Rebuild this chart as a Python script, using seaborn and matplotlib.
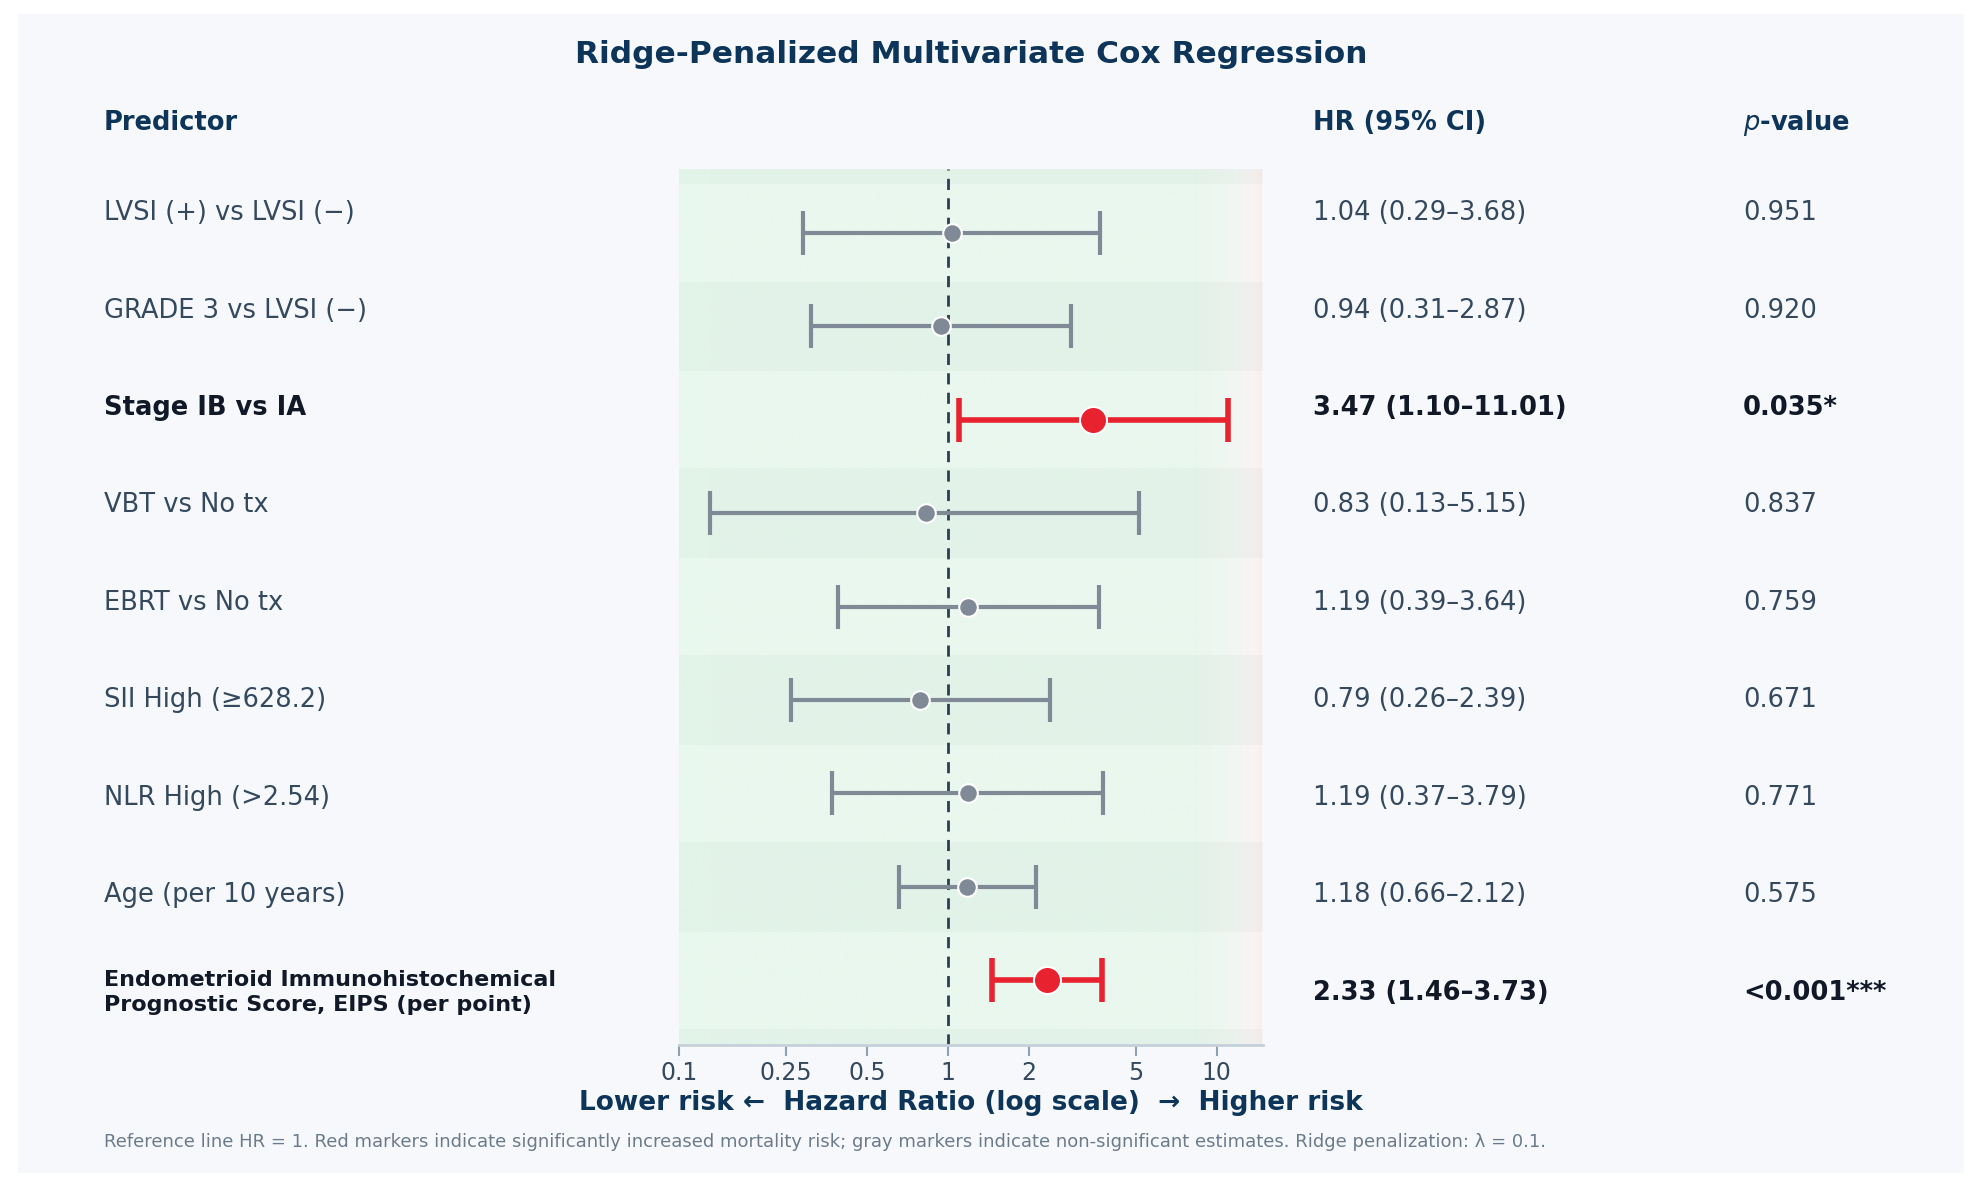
import numpy as np
import pandas as pd
import matplotlib
matplotlib.use("Agg")
import matplotlib.pyplot as plt
import seaborn as sns
from matplotlib.colors import LinearSegmentedColormap

predictors = ["LVSI (+) vs LVSI (\u2212)", "GRADE 3 vs LVSI (\u2212)", "Stage IB vs IA",
              "VBT vs No tx", "EBRT vs No tx", "SII High (\u2265628.2)", "NLR High (>2.54)",
              "Age (per 10 years)", "Endometrioid Immunohistochemical\nPrognostic Score, EIPS (per point)"]
hr = [1.04, 0.94, 3.47, 0.83, 1.19, 0.79, 1.19, 1.18, 2.33]
lo = [0.29, 0.31, 1.10, 0.13, 0.39, 0.26, 0.37, 0.66, 1.46]
hi = [3.68, 2.87, 11.01, 5.15, 3.64, 2.39, 3.79, 2.12, 3.73]
pvals = ["0.951", "0.920", "0.035*", "0.837", "0.759", "0.671", "0.771", "0.575", "<0.001***"]
sig = [False, False, True, False, False, False, False, False, True]
xticks = [0.1, 0.25, 0.5, 1, 2, 5, 10]
xticklabels = ["0.1", "0.25", "0.5", "1", "2", "5", "10"]

sns.set_theme(style="white")
plt.rcParams['font.family'] = ['DejaVu Sans']

NAVY = "#0d3559"; RED = "#e8222e"; GRAY = "#7f8a96"; TXT = "#34495e"; DARK = "#111827"

fig = plt.figure(figsize=(19.82, 11.87), dpi=100, facecolor="white")
fig.patches.append(plt.Rectangle((0.009, 0.012), 0.982, 0.976, transform=fig.transFigure,
                                 facecolor="#f6f8fc", edgecolor="none", zorder=-10))
ax = fig.add_axes([0.3426, 0.120, 0.2944, 0.738])
ax.set_facecolor("none")
n = len(predictors)
ax.set_xscale("log")
ax.set_xlim(0.1, 14.8)

cmap = LinearSegmentedColormap.from_list("g", [(0, "#e9f8ee"), (0.55, "#e9f7ee"), (0.8, "#f3f6f3"), (0.93, "#f9f4f3"), (1, "#fdecea")])
grad = np.linspace(0, 1, 256)[None, :]
ax.imshow(grad, extent=(0.1, 14.8, n - 1 + 0.69, -0.69), aspect="auto", cmap=cmap, zorder=0)
ax.set_ylim(n - 1 + 0.69, -0.69)
for i in range(-1, n + 1):
    if i % 2 == 1 or i in (-1, n):
        ax.axhspan(i - 0.5 + 0.02, i + 0.5 - 0.02, color="#5a8a6a", alpha=0.045, lw=0, zorder=1)

ax.axvline(1, color="#2c3e50", ls=(0, (4, 3)), lw=2, zorder=2)

df = pd.DataFrame({"y": np.arange(n), "hr": hr, "lo": lo, "hi": hi, "sig": sig})
for _, r in df.iterrows():
    c = RED if r.sig else GRAY
    ax.errorbar(r.hr, r.y, xerr=[[r.hr - r.lo], [r.hi - r.hr]], fmt="none",
                ecolor=c, elinewidth=4 if r.sig else 3, capsize=16, capthick=4 if r.sig else 3, zorder=3)
sns.scatterplot(data=df[~df.sig], x="hr", y="y", ax=ax, color=GRAY, s=180, edgecolor="white", linewidth=1.5, zorder=4)
sns.scatterplot(data=df[df.sig], x="hr", y="y", ax=ax, color=RED, s=380, edgecolor="white", linewidth=1.5, zorder=4)
ax.set_ylim(n - 1 + 0.69, -0.69)

ax.set_xticks(xticks)
ax.set_xticklabels(xticklabels)
ax.minorticks_off()
ax.set_yticks([])
ax.tick_params(axis="x", colors="#8fa0b0", labelcolor="#34495e", labelsize=17, length=8, width=1.5, bottom=True)
for s in ["top", "right", "left"]:
    ax.spines[s].set_visible(False)
ax.spines["bottom"].set_color("#c5d0da"); ax.spines["bottom"].set_linewidth(2)
ax.set_xlabel("Lower risk \u2190  Hazard Ratio (log scale)  \u2192  Higher risk", fontsize=19,
              fontweight="bold", color=NAVY, labelpad=4)
ax.set_ylabel("")

xs = [0.0523, 0.6626, 0.8795]
for i in range(n):
    multi = "\n" in predictors[i]
    ypix = 786 if multi else 169 + 77.1 * i
    yy = 1 - ypix / 940
    fw = "bold" if sig[i] else "normal"
    col = DARK if sig[i] else TXT
    for x, t in zip(xs, [predictors[i], f"{hr[i]:.2f} ({lo[i]:.2f}\u2013{hi[i]:.2f})", pvals[i]]):
        fs = (16 if multi else 18.5) if x == xs[0] else 18.5
        fig.text(x, yy, t, fontsize=fs, fontweight=fw, color=col,
                 ha="left", va="center", linespacing=1.3)

fig.text(0.49, 0.954, "Ridge-Penalized Multivariate Cox Regression", ha="center", va="center",
         fontsize=22.5, fontweight="bold", color=NAVY)
fig.text(xs[0], 0.896, "Predictor", fontsize=18.5, fontweight="bold", color=NAVY, va="center")
fig.text(xs[1], 0.896, "HR (95% CI)", fontsize=18.5, fontweight="bold", color=NAVY, va="center")
fig.text(xs[2], 0.896, r"$p$-value", fontsize=18.5, fontweight="bold", color=NAVY, va="center")
fig.text(xs[0], 0.038, "Reference line HR = 1. Red markers indicate significantly increased mortality risk; gray markers indicate non-significant estimates. Ridge penalization: \u03bb = 0.1.",
         fontsize=13, color="#6b7b8c", va="center")

fig.savefig("out.png", dpi=100, facecolor="white")
